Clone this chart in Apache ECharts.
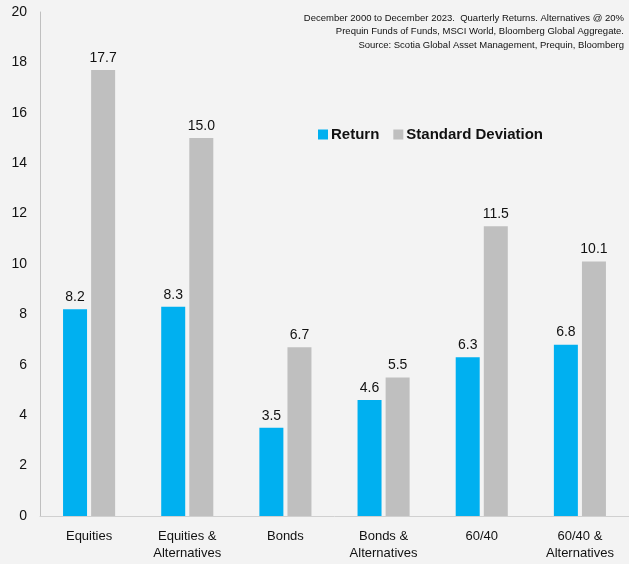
<!DOCTYPE html>
<html>
<head>
<meta charset="utf-8">
<script src="https://cdn.jsdelivr.net/npm/echarts@6/dist/echarts.min.js"></script>
<style>
html,body{margin:0;padding:0;background:#f3f3f3;}
#chart{width:629px;height:564px;}
</style>
</head>
<body>
<div id="chart"></div>
<script>
const categories = ['Equities', 'Equities &\nAlternatives', 'Bonds', 'Bonds &\nAlternatives', '60/40', '60/40 &\nAlternatives'];
const returnValues = [8.2, 8.3, 3.5, 4.6, 6.3, 6.8];
const stdDevValues = [17.7, 15.0, 6.7, 5.5, 11.5, 10.1];
const yTicks = [0, 2, 4, 6, 8, 10, 12, 14, 16, 18, 20];
const noteLines = [
  'December 2000 to December 2023.  Quarterly Returns. Alternatives @ 20%',
  'Prequin Funds of Funds, MSCI World, Bloomberg Global Aggregate.',
  'Source: Scotia Global Asset Management, Prequin, Bloomberg'
];

const sans = "'Liberation Sans', Arial, sans-serif";
const chart = echarts.init(document.getElementById('chart'));

chart.setOption({
  backgroundColor: '#f3f3f3',
  animation: false,
  grid: { left: 40, right: 0, top: 12, bottom: 48 },
  graphic: noteLines.map((line, i) => ({
    type: 'text',
    right: 5,
    top: 13 + i * 13.5,
    style: { text: line, font: '9.5px ' + sans, fill: '#111', textAlign: 'right' }
  })),
  legend: {
    left: 313, top: 122,
    itemWidth: 10, itemHeight: 10, itemGap: 14,
    icon: 'rect',
    textStyle: { fontFamily: sans, fontSize: 15, fontWeight: 'bold', color: '#111', padding: [0, 0, 0, -2] },
    data: ['Return', 'Standard Deviation']
  },
  xAxis: {
    type: 'category',
    data: categories,
    axisLine: { lineStyle: { color: '#d0d0d0', width: 1 } },
    axisTick: { show: false },
    axisLabel: { fontFamily: sans, fontSize: 13, color: '#111', margin: 12, lineHeight: 17 }
  },
  yAxis: {
    type: 'value',
    min: yTicks[0], max: yTicks[yTicks.length - 1], interval: 2,
    axisLine: { show: true, lineStyle: { color: '#bfbfbf', width: 1 } },
    axisTick: { show: false },
    splitLine: { show: false },
    axisLabel: { fontFamily: sans, fontSize: 14, color: '#111', margin: 13 }
  },
  series: [
    {
      name: 'Return', type: 'bar', data: returnValues,
      barWidth: 24, barGap: '17%',
      itemStyle: { color: '#00b0f0' },
      label: { show: true, position: 'top', distance: 5, formatter: p => p.value.toFixed(1), fontFamily: sans, fontSize: 14, color: '#111' }
    },
    {
      name: 'Standard Deviation', type: 'bar', data: stdDevValues,
      barWidth: 24,
      itemStyle: { color: '#bfbfbf' },
      label: { show: true, position: 'top', distance: 5, formatter: p => p.value.toFixed(1), fontFamily: sans, fontSize: 14, color: '#111' }
    }
  ]
});
</script>
</body>
</html>
